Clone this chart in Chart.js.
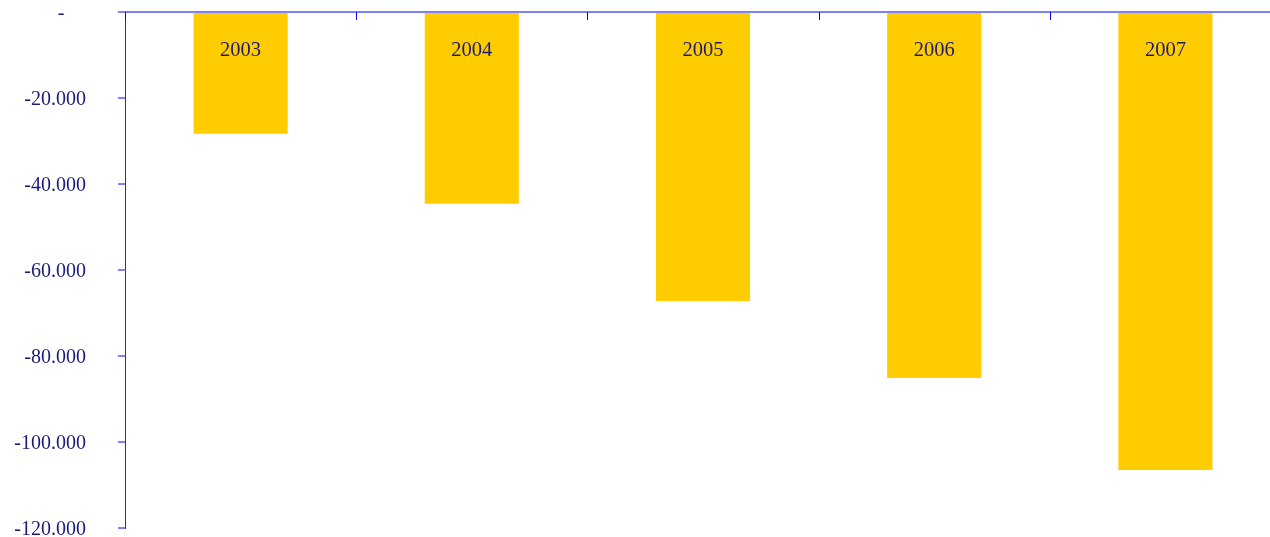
<!DOCTYPE html>
<html>
<head>
<meta charset="utf-8">
<script src="https://cdn.jsdelivr.net/npm/chart.js@4"></script>
<style>
  html, body { margin: 0; padding: 0; background: #fff; overflow: hidden; }
  #wrap { position: relative; width: 1281px; height: 537px; }
</style>
</head>
<body>
<div id="wrap"><canvas id="myChart"></canvas></div>
<script>
const years = ['2003', '2004', '2005', '2006', '2007'];
const values = [-28300, -44600, -67200, -85100, -106500];
const yTicks = [0, -20000, -40000, -60000, -80000, -100000, -120000];

const navy = '#1c1c78';
const font = 'Liberation Serif, DejaVu Serif, serif';

// year labels inside the bars, tick marks hanging below the top axis
const insideLabels = {
    id: 'insideLabels',
    afterDraw(chart) {
        const c = chart.ctx;
        const x = chart.scales.x;
        const top = chart.chartArea.top;
        const step = x.width / years.length;
        c.save();
        c.strokeStyle = '#0000ff';
        c.lineWidth = 1;
        for (let i = 0; i < years.length; i++) {
            const px = Math.round(x.left + i * step) + 0.5;
            c.beginPath();
            c.moveTo(px, top);
            c.lineTo(px, top + 8);
            c.stroke();
        }
        c.fillStyle = navy;
        c.font = '20.5px ' + font;
        c.textAlign = 'center';
        c.textBaseline = 'middle';
        years.forEach((y, i) => {
            c.fillText(y, x.getPixelForValue(i), top + 39);
        });
        c.restore();
    }
};

new Chart(document.getElementById('myChart'), {
    type: 'bar',
    data: {
        labels: years,
        datasets: [{
            data: values,
            backgroundColor: '#ffcc00',
            borderWidth: 0,
            barPercentage: 0.407,
            categoryPercentage: 1
        }]
    },
    options: {
        responsive: true,
        maintainAspectRatio: false,
        animation: false,
        layout: { autoPadding: false, padding: { top: 12, bottom: 9, left: 0, right: 0 } },
        plugins: {
            legend: { display: false },
            tooltip: { enabled: false }
        },
        scales: {
            x: {
                position: 'top',
                grid: { display: false },
                border: { color: '#8080ff', width: 2 },
                ticks: { display: false },
                afterFit: (s) => { s.height = 0; s.paddingLeft = 0; s.paddingRight = 0; }
            },
            y: {
                min: -120000,
                max: 0,
                afterBuildTicks: (s) => { s.ticks = yTicks.map(v => ({ value: v })); },
                afterFit: (s) => { s.width = 125; s.paddingTop = 0; s.paddingBottom = 0; },
                grid: {
                    drawOnChartArea: false,
                    drawTicks: true,
                    tickLength: 7,
                    color: '#8080ff',
                    lineWidth: 2
                },
                border: { color: '#2020ff', width: 1 },
                ticks: {
                    padding: 32,
                    labelOffset: 2,
                    color: navy,
                    font: { family: font, size: 20 },
                    callback: (v) => v === 0 ? '-\u2002\u2002\u200A' : v.toLocaleString('de-DE')
                }
            }
        }
    },
    plugins: [insideLabels]
});
</script>
</body>
</html>
